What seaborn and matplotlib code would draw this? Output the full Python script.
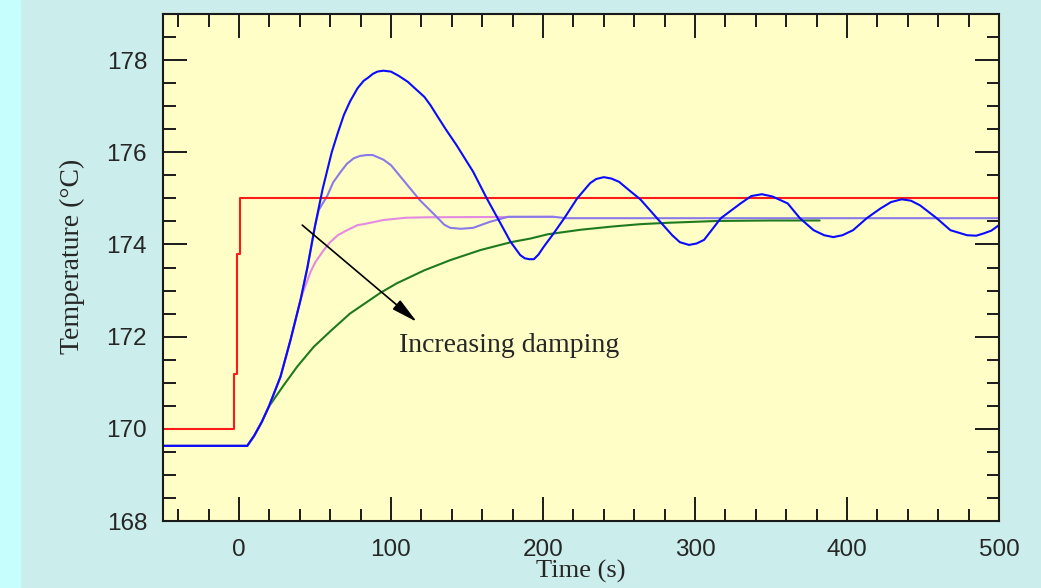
import seaborn as sns
import matplotlib.pyplot as plt
from matplotlib.patches import Rectangle
from matplotlib.ticker import MultipleLocator

# setpoint step (red)
setpoint_t = [-50, -3, -3, -1, -1, 0.5, 0.5, 500]
setpoint_v = [170, 170, 171.2, 171.2, 173.8, 173.8, 175, 175]

# least damped response (blue)
blue_t = [-50, 5.4, 10, 15, 19.6, 27.3, 33.9, 40.5, 45, 50, 55, 61, 65, 69, 73, 78, 82,
          85, 88, 91, 95, 100, 105, 111, 116, 122, 126, 130, 136, 143, 154, 163, 172,
          178.6, 185, 188, 191, 194, 197, 200.5, 207, 214, 222.5, 231, 235, 240, 245,
          250, 258, 264, 275, 285, 290, 296, 301, 306, 317, 330, 337, 344, 351, 361,
          369, 378, 385, 391, 397, 404, 413, 422, 429, 436, 442, 448, 459, 468, 479,
          485, 490, 495, 500]
blue_v = [169.63, 169.63, 169.85, 170.15, 170.48, 171.13, 171.93, 172.8, 173.5, 174.4,
          175.2, 176.0, 176.42, 176.81, 177.1, 177.39, 177.55, 177.62, 177.7, 177.75,
          177.77, 177.75, 177.66, 177.53, 177.38, 177.2, 177.02, 176.81, 176.5, 176.16,
          175.58, 175.0, 174.46, 174.06, 173.77, 173.7, 173.68, 173.68, 173.78, 173.95,
          174.24, 174.57, 175.0, 175.33, 175.42, 175.46, 175.43, 175.36, 175.14, 174.98,
          174.57, 174.2, 174.05, 173.99, 174.02, 174.1, 174.57, 174.89, 175.05, 175.09,
          175.04, 174.89, 174.57, 174.31, 174.2, 174.16, 174.2, 174.31, 174.57, 174.78,
          174.92, 174.98, 174.95, 174.85, 174.57, 174.31, 174.2, 174.19, 174.24, 174.3,
          174.42]

# medium damping (purple)
purple_t = [-50, 5.4, 10, 15, 19.6, 27.3, 33.9, 40.5, 45, 50, 52.5, 58, 62, 67, 71,
            75.5, 79.5, 84, 88, 95, 100, 108, 119, 130, 135, 139, 146, 154, 165, 177,
            207, 215, 500]
purple_v = [169.63, 169.63, 169.85, 170.15, 170.48, 171.13, 171.93, 172.8, 173.5, 174.4,
            174.75, 175.05, 175.35, 175.58, 175.75, 175.87, 175.92, 175.94, 175.94, 175.84,
            175.72, 175.4, 174.96, 174.6, 174.43, 174.36, 174.34, 174.36, 174.49, 174.6,
            174.6, 174.57, 174.57]

# heavier damping (pink)
pink_t = [-50, 5.4, 10, 15, 19.6, 27.3, 33.9, 40.5, 42, 47, 50.3, 55.8, 60, 65, 70, 78,
          82, 95, 110, 126, 207]
pink_v = [169.63, 169.63, 169.85, 170.15, 170.48, 171.13, 171.93, 172.8, 172.95, 173.4,
          173.62, 173.88, 174.05, 174.2, 174.29, 174.42, 174.44, 174.53, 174.58, 174.59,
          174.6]

# overdamped (green)
green_t = [-50, 5.4, 10, 15, 19.6, 29.5, 38.3, 49.2, 60.2, 73, 93, 104, 122, 139, 159,
           179, 192, 203, 225, 246, 264, 282, 315, 350, 382]
green_v = [169.63, 169.63, 169.85, 170.15, 170.48, 170.95, 171.35, 171.78, 172.12, 172.5,
           172.95, 173.16, 173.44, 173.66, 173.88, 174.05, 174.13, 174.22, 174.32, 174.39,
           174.44, 174.47, 174.51, 174.52, 174.52]

arrow_start = (41.6, 174.42)
arrow_end = (117, 172.32)
note_pos = (105, 171.67)

sns.set_style("ticks")
plt.rcParams['font.family'] = ['Liberation Sans', 'DejaVu Sans']

fig = plt.figure(figsize=(10.41, 5.88), dpi=100, facecolor='#cbedeb')
fig.add_artist(Rectangle((0, 0), 20 / 1041, 1, transform=fig.transFigure,
                         color='#c6fdfd', zorder=0))
ax = fig.add_axes([163 / 1041, 1 - 521 / 588, 836 / 1041, 507 / 588])
ax.set_facecolor('#fefec6')

# draw order: green under, blue on top
series = [
    (green_t, green_v, '#1f7a1f'),
    (pink_t, pink_v, '#e38ae3'),
    (purple_t, purple_v, '#8a7ae8'),
    (setpoint_t, setpoint_v, '#ff1a1a'),
    (blue_t, blue_v, '#0a0aff'),
]
for t, v, c in series:
    sns.lineplot(x=t, y=v, color=c, lw=1.5, ax=ax, estimator=None, sort=False)

ax.set_xlim(-50, 500)
ax.set_ylim(168, 179)
ax.xaxis.set_major_locator(MultipleLocator(100))
ax.xaxis.set_minor_locator(MultipleLocator(20))
ax.yaxis.set_major_locator(MultipleLocator(2))
ax.yaxis.set_minor_locator(MultipleLocator(0.5))

ax.tick_params(which='both', direction='in', top=True, right=True,
               width=1.4, color='#1a1a1a', labelsize=17.5)
ax.tick_params(which='major', length=17)
ax.tick_params(which='minor', length=9)
ax.tick_params(axis='x', pad=13)
ax.tick_params(axis='y', pad=11.5)
for s in ax.spines.values():
    s.set_linewidth(1.5)
    s.set_color('#1a1a1a')

ax.set_xlabel('Time (s)', family='Liberation Serif', fontsize=19)
ax.xaxis.set_label_coords(0.5, -0.076)
ax.set_ylabel('Temperature (°C)', family='Liberation Serif', fontsize=20)
ax.yaxis.set_label_coords(-0.0933, 0.521)

ax.annotate('', xy=arrow_end, xytext=arrow_start,
            arrowprops=dict(arrowstyle='-|>,head_length=0.8,head_width=0.18',
                            color='black', lw=1.2, mutation_scale=20,
                            shrinkA=0, shrinkB=0))
ax.text(note_pos[0], note_pos[1], 'Increasing damping', family='Liberation Serif',
        fontsize=20, ha='left', va='baseline')

fig.savefig('out.png', dpi=100, facecolor=fig.get_facecolor())
